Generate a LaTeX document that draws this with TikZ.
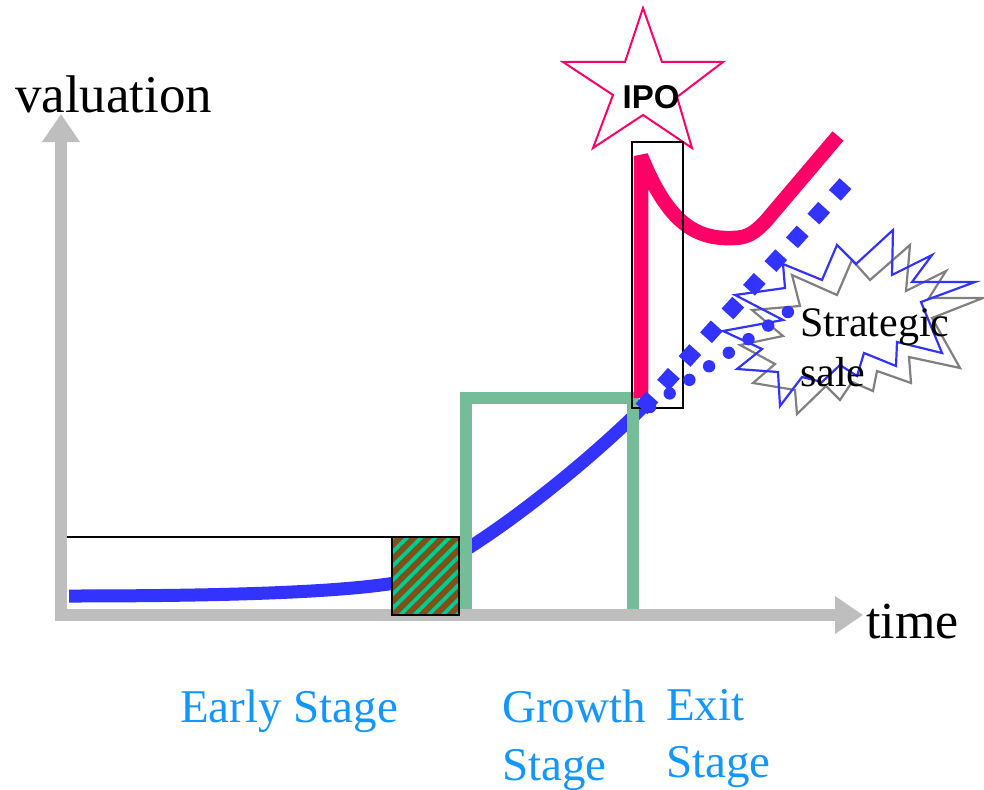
\documentclass[tikz,border=0pt]{standalone}
\usepackage{fontspec}
\setmainfont{Liberation Serif}
\newfontfamily\arialfont{Liberation Sans}
\usetikzlibrary{arrows.meta,patterns.meta}
\definecolor{axisgray}{RGB}{190,190,190}
\definecolor{curveblue}{RGB}{51,51,255}
\definecolor{ipored}{RGB}{255,0,102}
\definecolor{stagegreen}{RGB}{115,190,152}
\definecolor{hatchbrown}{RGB}{128,80,25}
\definecolor{hatchgreen}{RGB}{0,204,150}
\definecolor{labelblue}{RGB}{20,150,255}
\definecolor{burstgray}{RGB}{128,128,128}
\tikzset{
  axisline/.style={draw=axisgray,line width=12pt,-{Triangle[length=28pt,width=36pt]}},
  bigtext/.style={inner sep=0pt,anchor=base west,font=\fontsize{53}{60}\selectfont},
  stagetext/.style={inner sep=0pt,anchor=base west,text=labelblue,font=\fontsize{47}{56}\selectfont},
  burst/.style={line width=2.2pt,line join=miter},
}
\begin{document}
\begin{tikzpicture}[x=1pt,y=-1pt]
\useasboundingbox (0,0) rectangle (984,789);

% early stage frame
\draw[black,line width=2pt] (62,537) rectangle (459,615);

% blue valuation curve
\draw[curveblue,line width=13pt] (69,596) .. controls (250,596) and (345,591) .. (395,583)
   .. controls (445,575) and (570,480) .. (645,405);

% growth stage box
\draw[stagegreen,line width=12pt,line join=miter] (466,612) -- (466,398) -- (633,398) -- (633,612);

% axes
\coordinate (origin) at (61,615);
\coordinate (ytip) at (61,114);
\coordinate (xtip) at (863,615);
\draw[axisline] (61,621) -- (ytip);
\draw[axisline] (55,615) -- (xtip);

% hatched box
\draw[black,line width=2.5pt,fill=hatchbrown] (392,537) rectangle (459,615);
\fill[pattern={Lines[angle=45,distance=10pt,line width=3.8pt]},pattern color=hatchgreen] (392,537) rectangle (459,615);
\draw[black,line width=2.5pt] (392,537) rectangle (459,615);

% IPO star
\draw[ipored,line width=2pt,line join=miter] (643,8) -- (662,62) -- (723,62) -- (677,97) -- (692,148)
  -- (643,115) -- (593,148) -- (613,95) -- (563,62) -- (625,62) -- cycle;
\node[inner sep=0pt,font=\arialfont\bfseries\fontsize{33}{40}\selectfont] (ipo) at (651,97.5) {IPO};

% red IPO curve
\draw[ipored,line width=14.5pt,line join=bevel] (641,398) -- (641,156)
  .. controls (665,215) and (690,240) .. (733,238)
  .. controls (748,238) and (755,232) .. (765,222) -- (838,136);

% exit frame
\draw[black,line width=2pt] (632,142) rectangle (683,408);

% bursts
\draw[burstgray,burst] (910,245) -- (906,291) -- (946,271) -- (929,298) -- (983,298) -- (932,318)
  -- (960,368) -- (909,357) -- (911,383) -- (877,371) -- (873,391) -- (852,382) -- (840,400)
  -- (826,386) -- (797,414) -- (795,390) -- (753,383) -- (775,364) -- (740,345) -- (783,336)
  -- (752,310) -- (800,306) -- (792,275) -- (837,295) -- (852,260) -- (870,280) -- cycle;
\draw[curveblue,burst] (893,230) -- (892,275) -- (932,255) -- (912,282) -- (975,282) -- (921,302)
  -- (942,353) -- (897,342) -- (896,366) -- (864,353) -- (857,376) -- (840,365) -- (822,382)
  -- (802,377) -- (780,406) -- (778,372) -- (737,369) -- (762,349) -- (723,331) -- (783,320)
  -- (735,295) -- (785,288) -- (783,264) -- (822,280) -- (837,245) -- (856,264) -- cycle;

% dotted continuations
\draw[curveblue,line width=16pt,dash pattern=on 16pt off 16pt] (641.6,408.9) -- (845.5,183.6);
\foreach \i in {0,...,7} \fill[curveblue] (650+19.7*\i,407-13.57*\i) circle (6.2);

% labels
\node[bigtext] (valuation) at (15,113) {valuation};
\node[bigtext,font=\fontsize{52}{60}\selectfont] (time) at (866,638) {time};
\node[inner sep=0pt,anchor=base west,font=\fontsize{42}{50}\selectfont] (strat1) at (800,336) {Strategic};
\node[inner sep=0pt,anchor=base west,font=\fontsize{42}{50}\selectfont] (strat2) at (800,386) {sale};
\node[stagetext] (early) at (180,722) {Early Stage};
\node[stagetext] (growth1) at (502,722) {Growth};
\node[stagetext] (growth2) at (502,780) {Stage};
\node[stagetext] (exit1) at (666,720) {Exit};
\node[stagetext] (exit2) at (666,777) {Stage};
\end{tikzpicture}
\end{document}
